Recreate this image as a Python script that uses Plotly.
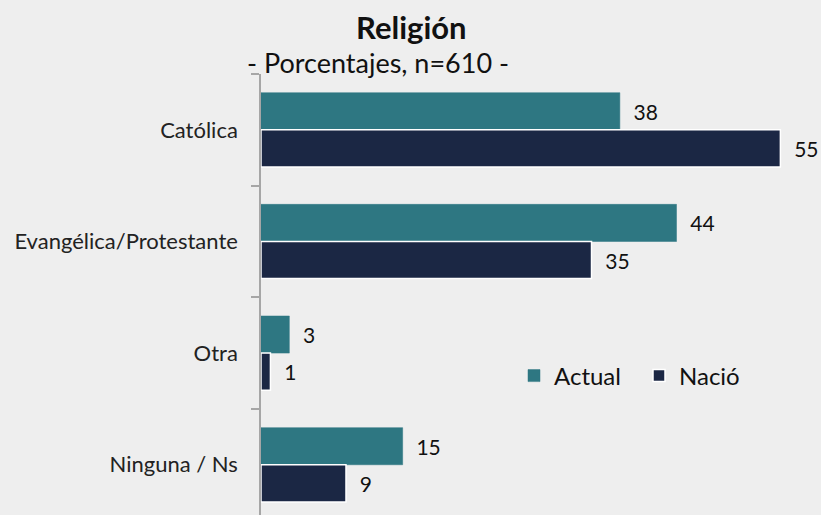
import plotly.graph_objects as go

categories = ["Católica", "Evangélica/Protestante", "Otra", "Ninguna / Ns"]
actual = [38, 44, 3, 15]
nacio = [55, 35, 1, 9]
series_names = ["Actual", "Nació"]
title = "Religión"
subtitle = "- Porcentajes, n=610 -"

TEAL = "#2E7782"
NAVY = "#1B2744"
BG = "#EEEEEE"
FONT = "Lato, 'Open Sans', sans-serif"

fig = go.Figure()
fig.add_trace(go.Bar(
    y=categories, x=actual, name=series_names[0], orientation="h",
    marker=dict(color=TEAL, line=dict(color=TEAL, width=0.5)),
    text=actual, texttemplate="\u00a0\u00a0%{x}", textposition="outside",
    textfont=dict(size=21, color="#111111", family=FONT), cliponaxis=False,
))
fig.add_trace(go.Bar(
    y=categories, x=nacio, name=series_names[1], orientation="h",
    marker=dict(color=NAVY, line=dict(color="white", width=1.5)),
    text=nacio, texttemplate="\u00a0\u00a0%{x}", textposition="outside",
    textfont=dict(size=21, color="#111111", family=FONT), cliponaxis=False,
))

L, T = 261, 74
W, H = 821, 515
pw, ph = W - L, H - T

fig.update_layout(
    width=W, height=H,
    paper_bgcolor=BG, plot_bgcolor=BG,
    margin=dict(l=L, r=0, t=T, b=0),
    barmode="group", bargap=0.335, bargroupgap=0,
    font=dict(family=FONT, color="#222222"),
    showlegend=True,
    legend=dict(orientation="h", x=(514 - L) / pw, y=(H - 376) / ph,
                xanchor="left", yanchor="middle",
                font=dict(size=24, color="#111111", family=FONT),
                bgcolor="rgba(0,0,0,0)", traceorder="normal",
                itemwidth=30, entrywidth=80),
    xaxis=dict(range=[0, 59.3], visible=False, showgrid=False, zeroline=False),
    yaxis=dict(
        type="category", range=[3.45, -0.5], showgrid=False, zeroline=False,
        showline=True, linecolor="#A6A6A6", linewidth=1.5,
        ticks="outside", ticklen=8, tickcolor="#A6A6A6", tickwidth=1.5,
        tickson="boundaries", ticklabelstandoff=17,
        tickfont=dict(size=22, color="#222222", family=FONT),
    ),
    annotations=[
        dict(text="<b>" + title + "</b>", x=(411 - L) / pw, y=(H - 27) / ph,
             xref="paper", yref="paper", showarrow=False,
             font=dict(size=31, color="#111111", family=FONT),
             xanchor="center", yanchor="middle"),
        dict(text=subtitle, x=(378 - L) / pw, y=(H - 63) / ph,
             xref="paper", yref="paper", showarrow=False,
             font=dict(size=27, color="#111111", family=FONT),
             xanchor="center", yanchor="middle"),
    ],
)

fig.write_html(
    "out.html",
    config={"displayModeBar": False},
    post_script="document.body.style.margin='0';document.body.style.background='#EEEEEE';",
)
